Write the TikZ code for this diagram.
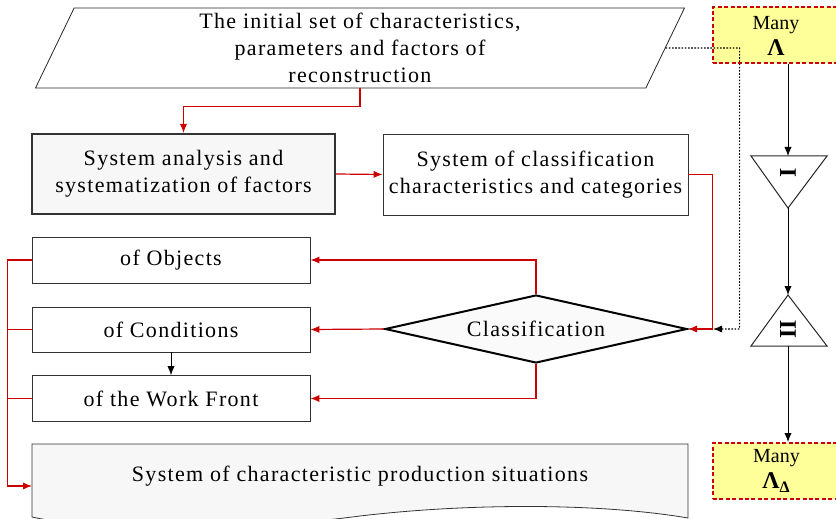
\documentclass[tikz,border=0pt]{standalone}
\usepackage{fontspec}
\setmainfont{Liberation Serif}
\newfontfamily\spacedserif{Liberation Serif}[LetterSpace=6]
\usetikzlibrary {arrows.meta}
\usetikzlibrary{shapes.geometric}

\tikzset{
	txt/.style={font=\spacedserif\fontsize{11}{13.5}\selectfont, align=center, inner sep=0pt},
	box/.style={txt, draw=black!80, fill=white, minimum width=139pt, minimum height=23pt},
	bigbox/.style={txt, draw=black!80, fill=white, minimum width=152.5pt, minimum height=40.5pt},
	many/.style={draw=red!80!black, line width=1pt, dash pattern=on 2pt off 1.2pt, fill={rgb,255:red,255;green,255;blue,153}, minimum width=63.5pt, minimum height=28pt, inner sep=0pt, align=center, font=\fontsize{10}{12}\selectfont},
	redline/.style={draw=red!80!black, line width=0.6pt},
	dotline/.style={dash pattern=on 0.8pt off 0.8pt, line width=0.6pt},
	tri/.style={draw=black!85, line width=0.5pt}
}

\begin{document}
\begin{tikzpicture}[x=0.5pt,y=-0.5pt,>={Latex[length=4.5pt,width=3.6pt]}]
			\clip (0,0) rectangle (836,519);

			\node[txt, draw=black!85, trapezium, trapezium left angle=61, trapezium right angle=119, trapezium stretches body, minimum width=324.5pt, minimum height=40pt] (init) at (360,48)
				{The initial set of characteristics,\\parameters and factors of\\reconstruction};
			\node[bigbox, line width=1pt, fill=black!3, minimum width=151.5pt, minimum height=40pt] (sysan) at (183.5,174) {System analysis and\\systematization of factors};
			\node[bigbox] (sysclass) at (535.5,174.5) {System of classification\\characteristics and categories};

			\node[box] (obj) at (171,260) {of Objects};
			\node[box, minimum height=22.5pt] (cond) at (171,329.5) {of Conditions};
			\node[box] (front) at (171,398.5) {of the Work Front};

			\node[txt, diamond, draw=black, line width=1pt, fill=black!2, aspect=4.4, minimum width=151pt, minimum height=34pt] (classif) at (536,329) {Classification};

			\draw[draw=black!80, fill=black!3] (32,444) -- (688,444) -- (688,518)
				.. controls (600,503) and (470,503) .. (360,516)
				.. controls (240,532) and (90,530) .. (32,517) -- cycle;
			\node[txt] (doc) at (360,476) {System of characteristic production situations};
			\coordinate (docin) at (32,486);

			\node[many] (many1) at (776,35.5) {Many\\[1pt]{\fontsize{12}{12}\selectfont\bfseries Λ}};
			\node[many] (many2) at (776.5,471) {Many\\[1pt]{\fontsize{12}{12}\selectfont\bfseries Λ\textsubscript{Δ}}};

			\draw[tri] (751,156) -- (827,156) -- (788,208) -- cycle;
			\draw[tri] (788,295) -- (827,346) -- (751,346) -- cycle;
			\node[rotate=90, font=\fontsize{12}{12}\selectfont\bfseries] (numI) at (788,173) {I};
			\node[rotate=90, font=\fontsize{12}{12}\selectfont\bfseries] (numII) at (788,329) {II};
			\coordinate (t1top) at (788,156);
			\coordinate (t1tip) at (788,208);
			\coordinate (t2tip) at (788,295);
			\coordinate (t2base) at (788,346);
			\coordinate (join) at (713,329);

			\draw[redline,->] (init.south) -- ++(0,18) -| (sysan.north);
			\draw[redline,->] (sysan.east) -- (sysclass.west);
			\draw[redline,->] (sysclass.east) -- ++(24,0) |- (classif.east);
			\draw[dotline,->] (init.east) -| ++(74,281) -- (join);

			\draw[redline,->] (classif.north) |- (obj.east);
			\draw[redline,->] (classif.west) -- (cond.east);
			\draw[redline,->] (classif.south) |- (front.east);
			\draw[->] (cond.south) -- (front.north);

			\draw[redline,->] (obj.west) -- ++(-24,0) |- (docin);
			\draw[redline] (cond.west) -- ++(-24,0);
			\draw[redline] (front.west) -- ++(-24,0);

			\draw[->] (many1.south -| t1top) -- (t1top);
			\draw[->] (t1tip) -- (t2tip);
			\draw[->] (t2base) -- (many2.north -| t2base);
		\end{tikzpicture}
\end{document}
